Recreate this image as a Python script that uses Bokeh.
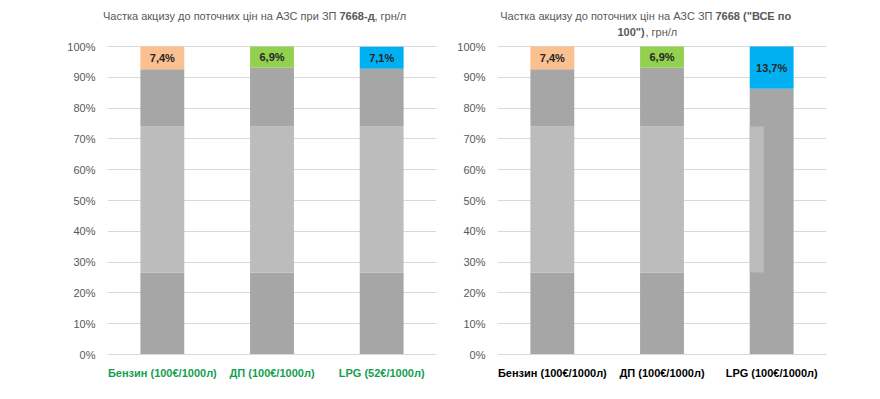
from bokeh.plotting import figure
from bokeh.layouts import row, column
from bokeh.models import (ColumnDataSource, Range1d, FactorRange, FixedTicker,
                          PrintfTickFormatter)
from bokeh.transform import dodge
from bokeh.core.properties import value
from bokeh.embed import file_html
from bokeh.resources import INLINE

# ---------------- data ----------------
cats_left = ["Бензин (100€/1000л)", "ДП (100€/1000л)", "LPG (52€/1000л)"]
cats_right = ["Бензин (100€/1000л)", "ДП (100€/1000л)", "LPG (100€/1000л)"]

lower_left = [26.6, 26.6, 26.6]
middle_left = [47.4, 47.4, 47.4]
upper_left = [18.6, 19.1, 18.8]
excise_left = [7.4, 6.9, 7.1]

lower_right = [26.6, 26.6, 86.3]
middle_right = [47.4, 47.4, 0.0]
upper_right = [18.6, 19.1, 0.0]
excise_right = [7.4, 6.9, 13.7]

lpg_strip_bottom = [26.6]
lpg_strip_top = [74.0]

y_ticks = [0, 10, 20, 30, 40, 50, 60, 70, 80, 90, 100]

excise_colors = ["#fac090", "#92d050", "#00b0f0"]

title_left = ["Частка акцизу до поточних цін на АЗС при ЗП ", "7668-д", ", грн/л"]
title_right_1 = ["Частка акцизу до поточних цін на АЗС ЗП ", "7668 (\"ВСЕ по"]
title_right_2 = ["100\")", ", грн/л"]

FONT = "Liberation Sans"
DARK = "#a6a6a6"
LIGHT = "#bcbcbc"
Y_TOP = 102.6  # a little room above 100% for the tick label


def make_fig(cats, lower, middle, upper, excise, width, bl, br, xlabel_color):
    p = figure(x_range=FactorRange(*cats), y_range=Range1d(0, Y_TOP),
               width=width, height=353, output_backend="svg", toolbar_location=None,
               min_border_left=bl, min_border_right=br, min_border_top=0,
               min_border_bottom=37)
    p.outline_line_color = None
    p.background_fill_color = "white"
    p.border_fill_color = "white"

    b1 = [0.0] * 3
    t1 = [a for a in lower]
    t2 = [a + b for a, b in zip(t1, middle)]
    t3 = [a + b for a, b in zip(t2, upper)]
    t4 = [a + b for a, b in zip(t3, excise)]
    src = ColumnDataSource(dict(cat=cats, b1=b1, t1=t1, t2=t2, t3=t3, t4=t4,
                                col=excise_colors,
                                ymid=[(a + b) / 2 for a, b in zip(t3, t4)],
                                lab=[f"{v:.1f}".replace(".", ",") + "%" for v in excise]))
    w = 0.4
    p.vbar(x="cat", bottom="b1", top="t1", width=w, source=src, fill_color=DARK, line_color=None)
    p.vbar(x="cat", bottom="t1", top="t2", width=w, source=src, fill_color=LIGHT, line_color=None)
    p.vbar(x="cat", bottom="t2", top="t3", width=w, source=src, fill_color=DARK, line_color=None)
    p.vbar(x="cat", bottom="t3", top="t4", width=w, source=src, fill_color="col", line_color=None)
    p.text(x="cat", y="ymid", text="lab", source=src, text_align="center",
           text_baseline="middle", text_font=value(FONT), text_font_style="bold",
           text_font_size="11px", text_color="#262626")

    p.xgrid.grid_line_color = None
    p.ygrid.grid_line_color = "#d9d9d9"
    p.yaxis.ticker = FixedTicker(ticks=y_ticks)
    p.yaxis.formatter = PrintfTickFormatter(format="%d%%")
    p.yaxis.axis_line_color = None
    p.yaxis.major_tick_line_color = None
    p.yaxis.minor_tick_line_color = None
    p.yaxis.major_label_text_color = "#595959"
    p.yaxis.major_label_text_font = FONT
    p.yaxis.major_label_text_font_size = "11px"
    p.yaxis.major_label_standoff = 6

    p.xaxis.axis_line_color = "#d9d9d9"
    p.xaxis.major_tick_line_color = None
    p.xaxis.minor_tick_line_color = None
    p.xaxis.major_label_text_color = xlabel_color
    p.xaxis.major_label_text_font = FONT
    p.xaxis.major_label_text_font_style = "bold"
    p.xaxis.major_label_text_font_size = "11px"
    p.xaxis.major_label_standoff = 6
    return p


p1 = make_fig(cats_left, lower_left, middle_left, upper_left, excise_left,
              448, 107, 12, "#14a050")
p2 = make_fig(cats_right, lower_right, middle_right, upper_right, excise_right,
              424, 49, 46, "#000000")

strip = ColumnDataSource(dict(cat=[cats_right[2]], b=lpg_strip_bottom, t=lpg_strip_top))
p2.vbar(x=dodge("cat", -0.136, range=p2.x_range), bottom="b", top="t", width=0.128,
        source=strip, fill_color=LIGHT, line_color=None)

# ---------------- title strip (pixel-like coordinates, y downwards) ----------------
tf = figure(width=872, height=38, x_range=Range1d(0, 872), y_range=Range1d(38, 0),
            output_backend="svg", toolbar_location=None, min_border=0,
            x_axis_type=None, y_axis_type=None)
tf.outline_line_color = None
tf.xgrid.grid_line_color = None
tf.ygrid.grid_line_color = None


def tpart(text, x, y, align, bold=False):
    tf.text(x=[x], y=[y], text=[text], text_align=align, text_baseline="middle",
            text_font=value(FONT), text_font_size="11px", text_color="#595959",
            text_font_style="bold" if bold else "normal")


tpart(title_left[0], 339, 15, "right")
tpart(title_left[1], 339, 15, "left", bold=True)
tpart(title_left[2], 374, 15, "left")
tpart(title_right_1[0], 715, 15, "right")
tpart(title_right_1[1], 715, 15, "left", bold=True)
tpart(title_right_2[0], 617, 31, "left", bold=True)
tpart(title_right_2[1], 645, 31, "left")

layout = column(tf, row(p1, p2))
open("out.html", "w").write(file_html(layout, INLINE))
